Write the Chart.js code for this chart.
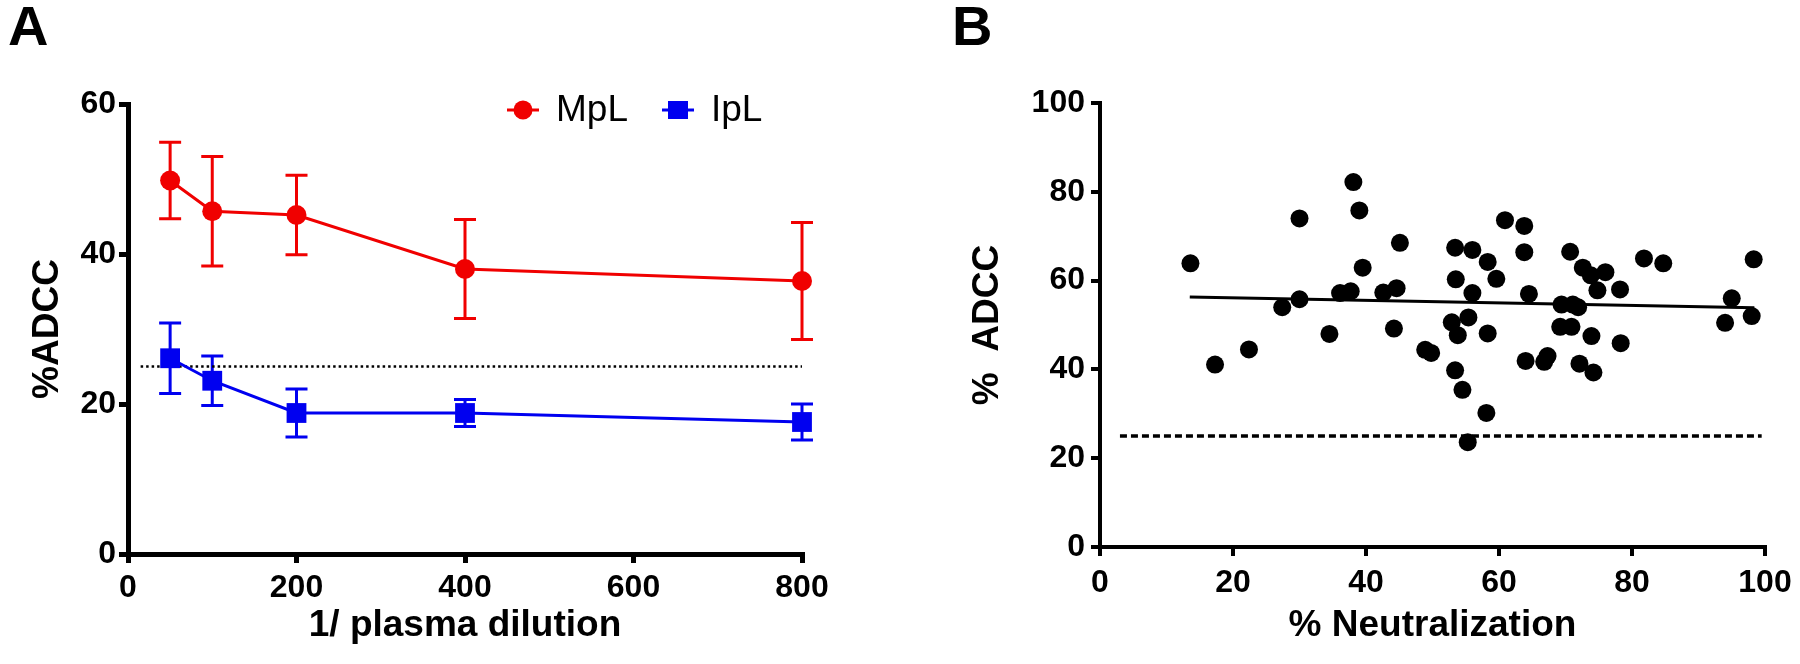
<!DOCTYPE html>
<html>
<head>
    <meta charset="UTF-8">
    <title>ADCC</title>
    <script src="https://cdn.jsdelivr.net/npm/chart.js"></script>
    <style>
        body { margin: 0; background: #fff; width: 1800px; height: 664px; position: relative; overflow: hidden;
               font-family: 'Liberation Sans', Arial, sans-serif; }
        canvas { position: absolute; top: 0; }
        #chartA { left: 0; }
        #chartB { left: 900px; }
        .panel { position: absolute; top: -2px; font-weight: bold; font-size: 56px; line-height: 1; }
    </style>
</head>
<body>
    <div class="panel" style="left:8px">A</div>
    <div class="panel" style="left:952px">B</div>
    <canvas id="chartA" width="900" height="664"></canvas>
    <canvas id="chartB" width="900" height="664"></canvas>

<script>
// panel A: %ADCC vs 1/plasma dilution (mean +- error)
const dilutions = [50, 100, 200, 400, 800];
const mplMean = [49.8, 45.7, 45.2, 38.0, 36.4];
const mplErr  = [5.1, 7.3, 5.3, 6.6, 7.8];
const iplMean = [26.1, 23.1, 18.8, 18.8, 17.6];
const iplErr  = [4.7, 3.3, 3.2, 1.8, 2.4];
const cutoffA = [15, 800];
const xTicksA = [0, 200, 400, 600, 800];
const yTicksA = [0, 20, 40, 60];

// panel B: %ADCC vs %neutralization
const neutralization = [13.6, 17.3, 22.4, 27.4, 30.0, 30.0, 34.5, 36.1, 37.7, 38.1, 39.0, 39.5,
    42.6, 44.6, 44.2, 45.1, 48.9, 49.8, 52.9, 53.4, 53.5, 53.8, 53.4, 54.5, 55.4, 55.3, 56.0,
    56.0, 58.3, 58.3, 58.1, 59.6, 60.9, 63.8, 63.8, 64.5, 64.0, 66.8, 67.3, 69.4, 69.2, 70.9,
    70.7, 71.1, 71.9, 72.1, 72.6, 73.8, 73.9, 74.2, 74.8, 76.0, 78.2, 78.3, 81.8, 84.7, 94.0,
    95.0, 98.0, 98.3];
const adcc = [63.9, 41.1, 44.5, 54.0, 74.0, 55.8, 48.0, 57.2, 57.6, 82.2, 75.8, 62.9,
    57.3, 58.3, 49.2, 68.5, 44.4, 43.7, 50.6, 67.4, 60.3, 47.7, 39.8, 35.4, 51.7, 23.6, 66.9,
    57.2, 64.2, 48.1, 30.2, 60.4, 73.6, 72.3, 66.4, 57.0, 41.9, 41.7, 43.0, 54.6, 49.6, 49.6,
    66.5, 54.6, 54.0, 41.3, 62.9, 61.2, 47.5, 39.3, 57.8, 61.9, 58.0, 45.9, 65.0, 63.9, 50.5,
    56.0, 52.0, 64.8];
const fitX = [13.5, 98.4];
const fitY = [56.3, 53.9];
const cutoffB = [3, 99.5];
const cutoffLevel = 25;
const xTicksB = [0, 20, 40, 60, 80, 100];
const yTicksB = [0, 20, 40, 60, 80, 100];

Chart.defaults.font.family = "'Liberation Sans', Arial, sans-serif";
Chart.defaults.color = '#000';

const tickFont = { size: 32, weight: 'bold' };
const titleFont = { size: 37, weight: 'bold' };

// error bars drawn through the y scale, under the markers
const errorBars = {
    id: 'errorBars',
    beforeDatasetsDraw(chart) {
        const ctx = chart.ctx, ys = chart.scales.y;
        chart.data.datasets.forEach((ds, i) => {
            if (!ds.errors) return;
            const meta = chart.getDatasetMeta(i);
            ctx.save();
            ctx.strokeStyle = ds.borderColor;
            ctx.lineWidth = 3;
            meta.data.forEach((pt, j) => {
                const v = ds.data[j].y, e = ds.errors[j];
                const top = ys.getPixelForValue(v + e), bot = ys.getPixelForValue(v - e);
                ctx.beginPath();
                ctx.moveTo(pt.x, top); ctx.lineTo(pt.x, bot);
                ctx.moveTo(pt.x - 11, top); ctx.lineTo(pt.x + 11, top);
                ctx.moveTo(pt.x - 11, bot); ctx.lineTo(pt.x + 11, bot);
                ctx.stroke();
            });
            ctx.restore();
        });
    }
};

// small legend in the top right of panel A
const legendA = {
    id: 'legendA',
    afterDraw(chart) {
        const ctx = chart.ctx, area = chart.chartArea;
        const y = area.top + 6;
        [[0, area.left + 395], [1, area.left + 550]].forEach(([i, x]) => {
            const ds = chart.data.datasets[i];
            ctx.save();
            ctx.strokeStyle = ds.borderColor;
            ctx.fillStyle = ds.backgroundColor;
            ctx.lineWidth = 3;
            ctx.beginPath();
            ctx.moveTo(x - 16, y); ctx.lineTo(x + 16, y);
            ctx.stroke();
            if (ds.pointStyle === 'rect') {
                ctx.fillRect(x - 10, y - 9, 20, 18);
            } else {
                ctx.beginPath();
                ctx.arc(x, y, 9.5, 0, Math.PI * 2);
                ctx.fill();
            }
            ctx.fillStyle = '#000';
            ctx.font = "37px 'Liberation Sans', Arial, sans-serif";
            ctx.textBaseline = 'middle';
            ctx.fillText(ds.label, x + 33, y + 1);
            ctx.restore();
        });
    }
};

function linearAxis(opts) {
    return {
        type: 'linear',
        min: opts.min, max: opts.max,
        afterBuildTicks: s => { s.ticks = opts.ticks.map(v => ({ value: v })); },
        afterFit: s => { if (opts.width) s.width = opts.width; if (opts.height) s.height = opts.height; },
        ticks: { font: tickFont, color: '#000', padding: opts.pad },
        grid: { drawOnChartArea: false, color: '#000', lineWidth: opts.line, tickLength: 9 },
        border: { color: '#000', width: opts.line },
        title: { display: true, text: opts.title, font: titleFont, color: '#000', padding: opts.titlePad }
    };
}

new Chart(document.getElementById('chartA'), {
    type: 'scatter',
    data: {
        datasets: [{
            label: 'MpL',
            data: dilutions.map((d, i) => ({ x: d, y: mplMean[i] })),
            errors: mplErr,
            showLine: true,
            borderColor: '#f00000',
            backgroundColor: '#f00000',
            borderWidth: 3,
            pointStyle: 'circle',
            pointRadius: 10,
            pointBorderWidth: 0,
            clip: false
        }, {
            label: 'IpL',
            data: dilutions.map((d, i) => ({ x: d, y: iplMean[i] })),
            errors: iplErr,
            showLine: true,
            borderColor: '#0000f0',
            backgroundColor: '#0000f0',
            borderWidth: 3,
            pointStyle: 'rect',
            pointRadius: 14,
            pointBorderWidth: 0,
            clip: false
        }, {
            label: 'cutoff',
            data: cutoffA.map(x => ({ x: x, y: cutoffLevel })),
            showLine: true,
            borderColor: '#000',
            borderWidth: 2.5,
            borderDash: [2.5, 3],
            pointRadius: 0
        }]
    },
    options: {
        responsive: false,
        animation: false,
        events: [],
        layout: { padding: { left: 0, right: 98, top: 104, bottom: 0 } },
        plugins: { legend: { display: false }, tooltip: { enabled: false } },
        scales: {
            x: linearAxis({ min: 0, max: 800, ticks: xTicksA, height: 110, pad: 6, line: 5,
                            title: '1/ plasma dilution', titlePad: { top: 0, bottom: 16 } }),
            y: linearAxis({ min: 0, max: 60, ticks: yTicksA, width: 128, pad: 3, line: 5,
                            title: '%ADCC', titlePad: { top: 26, bottom: 0 } })
        }
    },
    plugins: [errorBars, legendA]
});

new Chart(document.getElementById('chartB'), {
    type: 'scatter',
    data: {
        datasets: [{
            label: 'samples',
            data: neutralization.map((n, i) => ({ x: n, y: adcc[i] })),
            backgroundColor: '#000',
            borderColor: '#000',
            pointRadius: 9,
            pointBorderWidth: 0,
            clip: false
        }, {
            label: 'fit',
            data: fitX.map((x, i) => ({ x: x, y: fitY[i] })),
            showLine: true,
            borderColor: '#000',
            borderWidth: 3,
            pointRadius: 0
        }, {
            label: 'cutoff',
            data: cutoffB.map(x => ({ x: x, y: cutoffLevel })),
            showLine: true,
            borderColor: '#000',
            borderWidth: 3.5,
            borderDash: [7, 4],
            pointRadius: 0
        }]
    },
    options: {
        responsive: false,
        animation: false,
        events: [],
        layout: { padding: { left: 0, right: 35, top: 103, bottom: 0 } },
        plugins: { legend: { display: false }, tooltip: { enabled: false } },
        scales: {
            x: linearAxis({ min: 0, max: 100, ticks: xTicksB, height: 117, pad: 8, line: 4,
                            title: '% Neutralization', titlePad: { top: 0, bottom: 16 } }),
            y: linearAxis({ min: 0, max: 100, ticks: yTicksB, width: 200, pad: 6, line: 4,
                            title: '%  ADCC', titlePad: { top: 66, bottom: 0 } })
        }
    }
});
</script>
</body>
</html>
